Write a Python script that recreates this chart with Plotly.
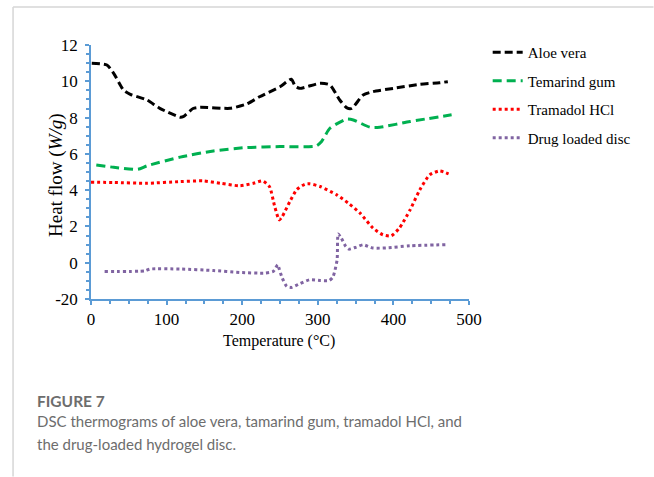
import plotly.graph_objects as go

# ---- data ----
aloe_x = [1, 21, 30, 43, 52, 74, 91, 118, 122, 135, 144, 184, 206, 223, 250, 265, 270, 276, 303, 316, 329, 338, 345, 360, 373, 400, 435, 461, 472]
aloe_y = [11.0, 10.9, 10.44, 9.52, 9.28, 8.97, 8.51, 8.02, 8.05, 8.5, 8.57, 8.51, 8.75, 9.15, 9.7, 10.11, 9.74, 9.61, 9.89, 9.8, 8.97, 8.55, 8.51, 9.25, 9.43, 9.61, 9.83, 9.92, 9.98]

tam_x = [7, 30, 62, 74, 118, 162, 206, 250, 298, 305, 316, 338, 347, 369, 382, 422, 477]
tam_y = [5.39, 5.26, 5.15, 5.34, 5.82, 6.16, 6.35, 6.4, 6.44, 6.68, 7.41, 7.91, 7.87, 7.47, 7.47, 7.78, 8.15]

tra_x = [0, 30, 74, 118, 148, 171, 197, 215, 227, 236, 243, 249, 253, 263, 272, 283, 289, 303, 325, 342, 356, 373, 386, 397, 408, 422, 435, 448, 461, 473]
tra_y = [4.44, 4.42, 4.38, 4.47, 4.51, 4.38, 4.24, 4.38, 4.51, 4.2, 3.1, 2.36, 2.55, 3.37, 4.02, 4.33, 4.35, 4.2, 3.74, 3.23, 2.73, 1.91, 1.54, 1.48, 1.91, 2.91, 4.02, 4.84, 5.06, 4.9]

drug_x = [18, 71, 78, 118, 162, 197, 230, 241, 247, 249, 253, 259, 265, 276, 289, 303, 315, 320, 325.5, 327, 331, 337, 341, 351, 360, 373, 391, 422, 472]
drug_y = [-0.48, -0.45, -0.35, -0.35, -0.43, -0.54, -0.57, -0.48, -0.11, -0.35, -0.85, -1.31, -1.36, -1.16, -0.94, -0.98, -0.98, -0.79, 0.16, 1.59, 1.36, 0.9, 0.75, 0.86, 0.99, 0.81, 0.82, 0.93, 1.0]

y_tickvals = [-2, 0, 2, 4, 6, 8, 10, 12]
y_ticktext = ["-20", "0", "2", "4", "6", "8", "10", "12"]
x_tickvals = [0, 100, 200, 300, 400, 500]

names = ["Aloe vera", "Temarind gum", "Tramadol HCl", "Drug loaded disc"]

SERIF = "Liberation Serif, Times New Roman, serif"
W, H = 654, 477
L, R, T, B = 91, 469.3, 45, 299.3


def px_x(p):
    return (p - L) / (R - L)


def px_y(p):
    return (B - p) / (B - T)


fig = go.Figure()
series = [
    (aloe_x, aloe_y, "#000000", "8px,4px"),
    (tam_x, tam_y, "#00B050", "9px,5px"),
    (tra_x, tra_y, "#FF0000", "dot"),
    (drug_x, drug_y, "#8064A2", "dot"),
]
for i, (xs, ys, c, d) in enumerate(series):
    fig.add_trace(go.Scatter(
        x=xs, y=ys, mode="lines", name=names[i], legendgroup=str(i),
        line=dict(color=c, dash=d, width=3, shape="spline", smoothing=0.6),
    ))

axis_col = "#5B9BD5"
fig.update_layout(
    width=W, height=H,
    margin=dict(l=L, r=W - R, t=T, b=H - B),
    paper_bgcolor="white", plot_bgcolor="white",
    font=dict(family=SERIF, size=15, color="black"),
    showlegend=True,
    legend=dict(
        x=px_x(488), y=px_y(36), xanchor="left", yanchor="top",
        font=dict(family=SERIF, size=15, color="black"),
        tracegroupgap=6, itemwidth=30, bgcolor="rgba(0,0,0,0)",
    ),
    xaxis=dict(
        range=[0, 500], tickvals=x_tickvals, showgrid=False, zeroline=False,
        showline=True, linecolor=axis_col, linewidth=1.5,
        ticks="outside", ticklen=4, tickcolor=axis_col, tickwidth=1.5,
        minor=dict(dtick=25, ticks="outside", ticklen=3, tickcolor=axis_col),
        tickfont=dict(family=SERIF, size=17), fixedrange=True,
    ),
    yaxis=dict(
        range=[-2, 12], tickvals=y_tickvals, ticktext=y_ticktext,
        showgrid=False, zeroline=False,
        showline=True, linecolor=axis_col, linewidth=1.5,
        ticks="outside", ticklen=4, tickcolor=axis_col, tickwidth=1.5,
        minor=dict(dtick=0.5, ticks="outside", ticklen=3, tickcolor=axis_col),
        tickfont=dict(family=SERIF, size=17), ticklabelstandoff=4,
        fixedrange=True,
    ),
)

# axis titles
fig.add_annotation(text="Heat flow (<i>W/g</i>)", x=px_x(43), y=px_y(176),
                   xref="paper", yref="paper", showarrow=False, textangle=-90,
                   font=dict(family=SERIF, size=19, color="black"))
fig.add_annotation(text="Temperature (°C)", x=px_x(279), y=px_y(352),
                   xref="paper", yref="paper", showarrow=False,
                   font=dict(family=SERIF, size=16, color="black"))

# caption
cap_font = "Lato, Noto Sans, sans-serif"
fig.add_annotation(text="<b>FIGURE 7</b>", x=px_x(35), y=px_y(401),
                   xref="paper", yref="paper", showarrow=False,
                   xanchor="left", yanchor="middle",
                   font=dict(family=cap_font, size=15.5, color="#6d6d6d"))
fig.add_annotation(text="DSC thermograms of aloe vera, tamarind gum, tramadol HCl, and",
                   x=px_x(35), y=px_y(421), xref="paper", yref="paper",
                   showarrow=False, xanchor="left", yanchor="middle",
                   font=dict(family=cap_font, size=15, color="#6d6d6d"))
fig.add_annotation(text="the drug-loaded hydrogel disc.",
                   x=px_x(35), y=px_y(444), xref="paper", yref="paper",
                   showarrow=False, xanchor="left", yanchor="middle",
                   font=dict(family=cap_font, size=15, color="#6d6d6d"))

# panel border lines
fig.add_shape(type="line", xref="paper", yref="paper",
              x0=px_x(13), x1=px_x(654), y0=px_y(7), y1=px_y(7),
              line=dict(color="#d6d6d6", width=1.5))
fig.add_shape(type="line", xref="paper", yref="paper",
              x0=px_x(13), x1=px_x(13), y0=px_y(7), y1=px_y(477),
              line=dict(color="#d6d6d6", width=1.5))

fig.write_html("out.html")
